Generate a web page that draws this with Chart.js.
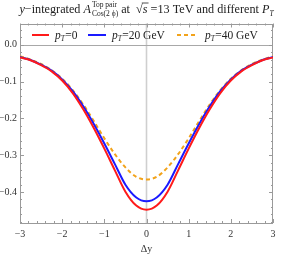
<!DOCTYPE html>
<html>
<head>
<meta charset="utf-8">
<script src="https://cdn.jsdelivr.net/npm/chart.js@4.4.1/dist/chart.umd.min.js"></script>
<style>
  html, body { margin: 0; padding: 0; background: #fff; }
  #wrap { width: 281px; height: 257px; }
</style>
</head>
<body>
<div id="wrap"><canvas id="grafico"></canvas></div>
<script>
const deltaY = [-3, -2.75, -2.5, -2.25, -2, -1.75, -1.5, -1.25, -1, -0.75, -0.5, -0.25, 0,
  0.25, 0.5, 0.75, 1, 1.25, 1.5, 1.75, 2, 2.25, 2.5, 2.75, 3];
const pt0 = [-0.034, -0.042, -0.055, -0.072, -0.097, -0.131, -0.175, -0.226, -0.282, -0.341, -0.399, -0.436, -0.448,
  -0.436, -0.399, -0.341, -0.282, -0.226, -0.175, -0.131, -0.097, -0.072, -0.055, -0.042, -0.034];
const pt20 = [-0.033, -0.041, -0.054, -0.070, -0.094, -0.126, -0.167, -0.215, -0.268, -0.324, -0.380, -0.414, -0.425,
  -0.414, -0.380, -0.324, -0.268, -0.215, -0.167, -0.126, -0.094, -0.070, -0.054, -0.041, -0.033];
const pt40 = [-0.031, -0.040, -0.052, -0.069, -0.092, -0.123, -0.162, -0.207, -0.254, -0.297, -0.333, -0.358, -0.366,
  -0.358, -0.333, -0.297, -0.254, -0.207, -0.162, -0.123, -0.092, -0.069, -0.052, -0.040, -0.031];

const xTicks = [-3, -2, -1, 0, 1, 2, 3];
const yTicks = [0, -0.1, -0.2, -0.3, -0.4];
const legendas = [
  { sub: "T", resto: "=0" },
  { sub: "T", resto: "=20 GeV" },
  { sub: "T", resto: "=40 GeV" }
];

const serif = '"Liberation Serif", "Times New Roman", serif';
const corMoldura = "#9a9a9a";

function pontos(vals) {
  return deltaY.map((d, i) => ({ x: d, y: vals[i] }));
}

function menos(v) {
  return String(v).replace("-", "\u2212");
}

// título com índices desenhado à mão
function desenharTitulo(chart) {
  const ctx = chart.ctx;
  const a = chart.chartArea;
  const f = 12.2, fp = 7.5;
  const partes = [
    { t: "y", font: `italic ${f}px ${serif}` },
    { t: "\u2212integrated ", font: `${f}px ${serif}` },
    { t: "A", font: `italic ${f}px ${serif}` },
    { sup: "Top pair", sub: "Cos(2 \u03d5)", font: `${fp}px ${serif}` },
    { t: " at  ", font: `${f}px ${serif}` },
    { t: "\u221a", font: `${f}px ${serif}` },
    { t: "s", font: `italic ${f}px ${serif}`, barra: true },
    { t: " =13 TeV and different ", font: `${f}px ${serif}` },
    { t: "P", font: `italic ${f}px ${serif}` },
    { t: "T", font: `italic ${fp}px ${serif}`, baixo: 3 }
  ];
  ctx.save();
  ctx.fillStyle = "#222";
  ctx.textBaseline = "alphabetic";
  let total = 0;
  partes.forEach(p => {
    ctx.font = p.font;
    if (p.sup) {
      p.w = Math.max(ctx.measureText(p.sup).width, ctx.measureText(p.sub).width) + 1;
    } else {
      p.w = ctx.measureText(p.t).width;
    }
    total += p.w;
  });
  let x = (a.left + a.right) / 2 - total / 2;
  const base = 13;
  partes.forEach(p => {
    ctx.font = p.font;
    ctx.textAlign = "left";
    if (p.sup) {
      ctx.fillText(p.sup, x + 1, base - 6.5);
      ctx.fillText(p.sub, x + 1, base + 2.5);
    } else {
      ctx.fillText(p.t, x, base + (p.baixo || 0));
      if (p.barra) {
        ctx.strokeStyle = "#222";
        ctx.lineWidth = 0.8;
        ctx.beginPath();
        ctx.moveTo(x - 1, base - 10);
        ctx.lineTo(x + p.w + 1, base - 10);
        ctx.stroke();
      }
    }
    x += p.w;
  });
  ctx.restore();
}

function desenharLegenda(chart) {
  const ctx = chart.ctx;
  const linhaX = [[32, 49], [88, 106], [177, 198]];
  const textoX = [55, 112, 205];
  const yc = 35;
  ctx.save();
  chart.data.datasets.forEach((ds, i) => {
    ctx.strokeStyle = ds.borderColor;
    ctx.lineWidth = 2;
    ctx.setLineDash(ds.borderDash || []);
    ctx.beginPath();
    ctx.moveTo(linhaX[i][0], yc);
    ctx.lineTo(linhaX[i][1], yc);
    ctx.stroke();
    ctx.setLineDash([]);
    let tx = textoX[i];
    ctx.fillStyle = "#222";
    ctx.textBaseline = "alphabetic";
    ctx.font = `italic 11.5px ${serif}`;
    ctx.fillText("p", tx, yc + 3.5);
    tx += ctx.measureText("p").width;
    ctx.font = `italic 7.5px ${serif}`;
    ctx.fillText(legendas[i].sub, tx, yc + 5.5);
    tx += ctx.measureText(legendas[i].sub).width + 0.3;
    ctx.font = `11.5px ${serif}`;
    ctx.fillText(legendas[i].resto, tx, yc + 3.5);
  });
  ctx.restore();
}

const moldura = {
  id: "moldura",
  beforeDatasetsDraw(chart) {
    const { ctx, chartArea: a, scales: { x, y } } = chart;
    ctx.save();
    // eixos no zero
    const x0 = x.getPixelForValue(0);
    ctx.strokeStyle = "#cfcfcf";
    ctx.lineWidth = 1.6;
    ctx.beginPath();
    ctx.moveTo(x0, a.top);
    ctx.lineTo(x0, a.bottom);
    ctx.stroke();
    const y0 = Math.round(y.getPixelForValue(0)) + 0.5;
    ctx.strokeStyle = "#a8a8a8";
    ctx.lineWidth = 1;
    ctx.beginPath();
    ctx.moveTo(a.left, y0);
    ctx.lineTo(a.right, y0);
    ctx.stroke();

    // moldura e marcas
    ctx.strokeStyle = corMoldura;
    ctx.strokeRect(Math.round(a.left) + 0.5, Math.round(a.top) + 0.5,
      Math.round(a.right - a.left) - 1, Math.round(a.bottom - a.top) - 1);
    ctx.beginPath();
    for (let i = -15; i <= 15; i++) {
      const px = Math.round(x.getPixelForValue(i / 5)) + 0.5;
      const len = i % 5 === 0 ? 4 : 2;
      ctx.moveTo(px, a.bottom);
      ctx.lineTo(px, a.bottom - len);
      ctx.moveTo(px, a.top);
      ctx.lineTo(px, a.top + len);
    }
    for (let i = -24; i <= 2; i++) {
      const py = Math.round(y.getPixelForValue(i / 50)) + 0.5;
      const len = i % 5 === 0 ? 4 : 2;
      ctx.moveTo(a.left, py);
      ctx.lineTo(a.left + len, py);
      ctx.moveTo(a.right, py);
      ctx.lineTo(a.right - len, py);
    }
    ctx.stroke();
    ctx.restore();
  },
  afterDatasetsDraw(chart) {
    desenharLegenda(chart);
    desenharTitulo(chart);
  }
};

const estiloLinha = { borderWidth: 2, pointRadius: 0, cubicInterpolationMode: "monotone", fill: false };

new Chart(document.getElementById("grafico"), {
  type: "line",
  data: {
    datasets: [
      { label: "pT=0", data: pontos(pt0), borderColor: "#ff1a1a", ...estiloLinha },
      { label: "pT=20 GeV", data: pontos(pt20), borderColor: "#1a1aff", ...estiloLinha },
      { label: "pT=40 GeV", data: pontos(pt40), borderColor: "#f2a31b", borderDash: [4, 3], ...estiloLinha }
    ]
  },
  options: {
    responsive: true,
    maintainAspectRatio: false,
    animation: false,
    layout: { padding: { top: 23.5, right: 8, left: 0, bottom: 0 } },
    plugins: {
      legend: { display: false },
      tooltip: { enabled: false }
    },
    scales: {
      x: {
        type: "linear",
        min: -3,
        max: 3,
        afterBuildTicks: axis => { axis.ticks = xTicks.map(v => ({ value: v })); },
        afterFit: axis => { axis.height = 34; },
        grid: { display: false, drawTicks: false },
        border: { display: false },
        ticks: {
          padding: 5,
          maxRotation: 0,
          color: "#333",
          font: { family: serif, size: 10 },
          callback: v => menos(v)
        },
        title: {
          display: true,
          text: "\u0394y",
          color: "#333",
          font: { family: serif, size: 10 },
          padding: { top: 0, bottom: 2 }
        }
      },
      y: {
        type: "linear",
        min: -0.484,
        max: 0.058,
        afterBuildTicks: axis => { axis.ticks = yTicks.map(v => ({ value: v })); },
        afterFit: axis => { axis.width = 20; },
        grid: { display: false, drawTicks: false },
        border: { display: false },
        ticks: {
          padding: 3,
          color: "#333",
          font: { family: serif, size: 10 },
          callback: v => menos(v.toFixed(1))
        }
      }
    }
  },
  plugins: [moldura]
});
</script>
</body>
</html>
